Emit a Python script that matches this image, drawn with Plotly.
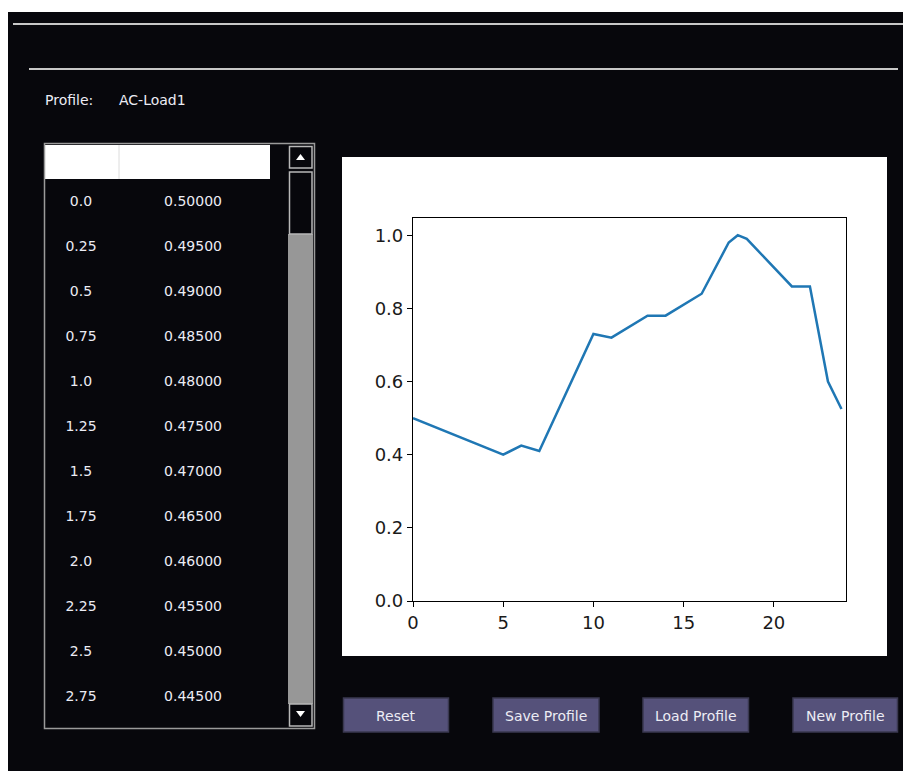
import plotly.graph_objects as go

# ---- data ----
hours = [0, 5, 6, 7, 10, 11, 13, 14, 16, 17.5, 18, 18.5, 21, 22, 23, 23.75]
load = [0.50, 0.40, 0.425, 0.41, 0.73, 0.72, 0.78, 0.78, 0.84, 0.98, 1.00, 0.99, 0.86, 0.86, 0.60, 0.525]

table_time = ["0.0", "0.25", "0.5", "0.75", "1.0", "1.25", "1.5", "1.75", "2.0", "2.25", "2.5", "2.75"]
table_value = ["0.50000", "0.49500", "0.49000", "0.48500", "0.48000", "0.47500",
               "0.47000", "0.46500", "0.46000", "0.45500", "0.45000", "0.44500"]

x_ticks = [0, 5, 10, 15, 20]
y_ticks = [0.0, 0.2, 0.4, 0.6, 0.8, 1.0]

profile_name = "AC-Load1"
button_labels = ["Reset", "Save Profile", "Load Profile", "New Profile"]

W, H = 903, 771
BG = "#07070c"
TXT = "#ececf4"


def px(x):
    return x / W


def py(y):
    return 1 - y / H


fig = go.Figure()

# chart line
fig.add_trace(go.Scatter(x=hours, y=load, mode="lines",
                         line=dict(color="#1f77b4", width=2.5),
                         showlegend=False, hoverinfo="skip"))

# table cells (text placed via a hidden axis pair)
n = len(table_time)
rows = list(range(n))
fig.add_trace(go.Scatter(x=[0] * n, y=rows, text=table_time, mode="text",
                         textfont=dict(family="DejaVu Sans", size=14, color=TXT),
                         xaxis="x2", yaxis="y2", showlegend=False, hoverinfo="skip", cliponaxis=False))
fig.add_trace(go.Scatter(x=[1] * n, y=rows, text=table_value, mode="text",
                         textfont=dict(family="DejaVu Sans", size=14, color=TXT),
                         xaxis="x2", yaxis="y2", showlegend=False, hoverinfo="skip", cliponaxis=False))

shapes = []
# dark window area (paper itself is white)
shapes.append(dict(type="rect", xref="paper", yref="paper", x0=px(8), x1=1, y0=0, y1=py(12),
                   fillcolor=BG, line=dict(width=0), layer="below"))
# plot panel
shapes.append(dict(type="rect", xref="paper", yref="paper", x0=px(342), x1=px(887), y0=py(656), y1=py(157),
                   fillcolor="white", line=dict(width=0), layer="below"))
# separator lines
shapes.append(dict(type="line", xref="paper", yref="paper", x0=px(13), x1=1, y0=py(24), y1=py(24),
                   line=dict(color="#c8c8c8", width=2)))
shapes.append(dict(type="line", xref="paper", yref="paper", x0=px(29), x1=px(898), y0=py(69), y1=py(69),
                   line=dict(color="#c8c8c8", width=2)))
# table header
shapes.append(dict(type="rect", xref="paper", yref="paper", x0=px(45), x1=px(270), y0=py(179), y1=py(145),
                   fillcolor="white", line=dict(width=0)))
shapes.append(dict(type="line", xref="paper", yref="paper", x0=px(119), x1=px(119), y0=py(179), y1=py(145),
                   line=dict(color="#dcdcdc", width=1)))
# table widget border
shapes.append(dict(type="rect", xref="paper", yref="paper", x0=px(44.5), x1=px(314.5), y0=py(728.5), y1=py(143.5),
                   line=dict(color="#9a9a9a", width=1.5), fillcolor="rgba(0,0,0,0)"))
# scrollbar track
shapes.append(dict(type="rect", xref="paper", yref="paper", x0=px(288), x1=px(313), y0=py(704), y1=py(234),
                   fillcolor="#979797", line=dict(width=0)))
# scrollbar up button
shapes.append(dict(type="rect", xref="paper", yref="paper", x0=px(289.5), x1=px(312), y0=py(168), y1=py(146.5),
                   fillcolor=BG, line=dict(color="#b8b8b8", width=1.5)))
shapes.append(dict(type="path", xref="paper", yref="paper",
                   path=f"M {px(296)},{py(160)} L {px(305)},{py(160)} L {px(300.5)},{py(154)} Z",
                   fillcolor="white", line=dict(width=0)))
# thumb
shapes.append(dict(type="rect", xref="paper", yref="paper", x0=px(289.5), x1=px(312), y0=py(234), y1=py(172),
                   fillcolor=BG, line=dict(color="#b8b8b8", width=1.5)))
# down button
shapes.append(dict(type="rect", xref="paper", yref="paper", x0=px(289.5), x1=px(312), y0=py(726), y1=py(704),
                   fillcolor=BG, line=dict(color="#b8b8b8", width=1.5)))
shapes.append(dict(type="path", xref="paper", yref="paper",
                   path=f"M {px(296)},{py(711)} L {px(305)},{py(711)} L {px(300.5)},{py(717)} Z",
                   fillcolor="white", line=dict(width=0)))
# buttons
btn_x = [(343.5, 448.5), (493, 599), (643, 748.5), (793, 897.5)]
annotations = []
for (bx0, bx1), lab in zip(btn_x, button_labels):
    shapes.append(dict(type="rect", xref="paper", yref="paper", x0=px(bx0), x1=px(bx1), y0=py(732), y1=py(698),
                       fillcolor="#55517a", line=dict(color="#3a3850", width=1.5)))
    annotations.append(dict(text=lab, x=px((bx0 + bx1) / 2), y=py(715.5), xref="paper", yref="paper",
                            showarrow=False, xanchor="center", yanchor="middle",
                            font=dict(family="DejaVu Sans", size=14, color=TXT)))

annotations.append(dict(text="Profile:", x=px(43), y=py(100), xref="paper", yref="paper",
                        showarrow=False, xanchor="left", yanchor="middle",
                        font=dict(family="DejaVu Sans", size=14, color=TXT)))
annotations.append(dict(text=profile_name, x=px(117), y=py(100), xref="paper", yref="paper",
                        showarrow=False, xanchor="left", yanchor="middle",
                        font=dict(family="DejaVu Sans", size=14, color=TXT)))

axis_common = dict(showgrid=False, zeroline=False, showline=True, linecolor="black", linewidth=1.2,
                   mirror=True, ticks="outside", ticklen=5, tickwidth=1.2, tickcolor="black",
                   automargin=False,
                   tickfont=dict(family="DejaVu Sans", size=18, color="#1a1a1a"))

# hidden axes for table text: column 0 centre at 81px, column 1 at 193px; rows at 202px + 45px*i
col_px = 112.0
x2_r0 = -(81 - 45) / col_px
x2_r1 = x2_r0 + (270 - 45) / col_px
row_px = 45.0
y2_top = -(202 - 179) / row_px
y2_bot = y2_top + (729 - 179) / row_px

fig.update_layout(
    width=W, height=H, margin=dict(l=0, r=0, t=0, b=0, pad=0, autoexpand=False),
    paper_bgcolor="white", plot_bgcolor="rgba(0,0,0,0)",
    shapes=shapes, annotations=annotations, showlegend=False,
    xaxis=dict(domain=[px(413), px(846)], range=[0, 24], tickvals=x_ticks,
               ticktext=[str(v) for v in x_ticks], **axis_common),
    yaxis=dict(domain=[py(601), py(218)], range=[0, 1.047], tickvals=y_ticks,
               ticktext=[f"{v:.1f}" for v in y_ticks], **axis_common),
    xaxis2=dict(domain=[px(45), px(270)], range=[x2_r0, x2_r1], visible=False, anchor="y2", automargin=False),
    yaxis2=dict(domain=[py(729), py(179)], range=[y2_bot, y2_top], visible=False, anchor="x2", automargin=False),
)

post = (
    "var de=document.documentElement, b=document.body;"
    "de.style.margin='0';de.style.padding='0';de.style.overflow='hidden';"
    "b.style.margin='0';b.style.padding='0';b.style.overflow='hidden';"
    "var d=document.getElementById('{plot_id}');"
    "d.style.position='absolute';d.style.left='0px';d.style.top='0px';"
)

fig.write_html("out.html", config={"displayModeBar": False, "responsive": False}, post_script=post)
